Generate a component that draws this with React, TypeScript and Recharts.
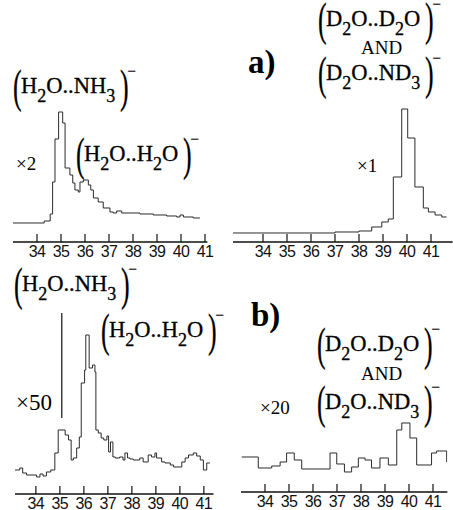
import React from 'react';
import { LineChart, Line, XAxis, YAxis, ReferenceLine } from 'recharts';

// mass axis ticks shared by all four panels
const TICKS = [34, 35, 36, 37, 38, 39, 40, 41];

// a) H2O + NH3, x2
const aLeftMass = [33.0, 34.3, 34.55, 34.65, 34.75, 34.9, 35.07, 35.17, 35.37, 35.49, 35.58, 35.72, 35.79, 35.93, 36.14, 36.24, 36.35, 36.55, 36.76, 37.04, 37.18, 37.32, 37.53, 38.29, 38.85, 39.4, 39.82, 39.96, 40.1, 40.51, 40.79];
const aLeftInt = [19, 21, 28, 60, 103, 130, 119, 74, 67, 59, 52, 50, 60, 62, 57, 52, 44, 40, 34, 30, 29, 31, 29, 28, 27, 26, 25, 27, 25, 24, 24];

// a) D2O + ND3, x1
const aRightMass = [32.75, 37.0, 38.0, 38.53, 38.95, 39.22, 39.43, 39.78, 40.03, 40.33, 40.68, 40.89, 41.17, 41.45, 41.65];
const aRightInt = [9, 10, 11, 15, 20, 23, 65, 133, 104, 55, 34, 30, 27, 25, 25];

// b) H2O + NH3, x50
const bLeftMass = [33.13, 33.33, 33.45, 33.61, 34.03, 34.17, 34.3, 34.44, 34.62, 34.79, 34.93, 35.22, 35.36, 35.47, 35.56, 35.7, 35.81, 35.89, 36.03, 36.08, 36.22, 36.36, 36.46, 36.5, 36.6, 36.72, 36.83, 36.96, 37.03, 37.11, 37.21, 37.31, 37.49, 37.63, 37.71, 37.82, 37.92, 38.06, 38.33, 38.47, 38.68, 38.82, 38.96, 39.03, 39.24, 39.38, 39.6, 39.74, 40.08, 40.22, 40.36, 40.56, 40.7, 40.85, 40.98, 41.12, 41.25];
const bLeftInt = [24, 26, 21, 19, 17, 20, 18, 22, 24, 41, 64, 59, 54, 34, 36, 46, 57, 111, 124, 159, 126, 129, 122, 64, 61, 56, 54, 58, 42, 52, 37, 36, 37, 34, 41, 36, 35, 34, 36, 32, 39, 37, 41, 36, 32, 31, 29, 27, 32, 36, 39, 41, 38, 34, 24, 31, 31];

// b) D2O + ND3, x20
const bRightMass = [33.03, 33.72, 34.28, 34.63, 34.9, 35.22, 35.53, 36.71, 36.99, 37.31, 37.61, 37.89, 38.17, 38.44, 38.79, 39.14, 39.49, 39.7, 40.04, 40.32, 40.94, 41.15, 41.43, 41.57];
const bRightInt = [35, 24, 26, 30, 39, 32, 23, 39, 28, 20, 25, 34, 32, 24, 34, 27, 62, 69, 54, 27, 39, 41, 41, 30];

const PX_PER_UNIT = 24;
const AXIS_H = 24;

const toRows = (m: number[], v: number[]) => m.map((x, i) => ({ m: x, v: v[i] }));

// ticks point up into the plot, labels sit just under the axis line
const UpTick = (props: any) => {
  const { x, y, payload } = props;
  return (
    <g>
      <line x1={x} x2={x} y1={y} y2={y - 8} stroke="#111" strokeWidth={1.2} />
      <text x={x} y={y + 15} textAnchor="middle" fontSize={16} fill="#111"
        fontFamily='"Liberation Sans", Arial, sans-serif' letterSpacing={-0.6}>
        {payload.value}
      </text>
    </g>
  );
};

interface PanelProps {
  left: number;
  axisY: number;
  plotH: number;
  d0: number;
  d1: number;
  rows: { m: number; v: number }[];
  children?: React.ReactNode;
}

const Panel: React.FC<PanelProps> = ({ left, axisY, plotH, d0, d1, rows, children }) => {
  const width = (d1 - d0) * PX_PER_UNIT;
  return (
    <div style={{ position: 'absolute', left, top: axisY - plotH }}>
      <LineChart width={width} height={plotH + AXIS_H} data={rows}
        margin={{ top: 0, right: 0, bottom: 0, left: 0 }}>
        <XAxis type="number" dataKey="m" domain={[d0, d1]} ticks={TICKS} interval={0}
          allowDataOverflow tickSize={0} tickMargin={0} tickLine={false}
          axisLine={{ stroke: '#111', strokeWidth: 1.5 }} tick={<UpTick />} height={AXIS_H} />
        <YAxis hide domain={[0, plotH]} allowDataOverflow />
        <Line type="stepAfter" dataKey="v" stroke="#2a2a2a" strokeWidth={1}
          dot={false} isAnimationActive={false} />
        {children}
      </LineChart>
    </div>
  );
};

const Sub = ({ children }: { children: React.ReactNode }) => (
  <span style={{ fontSize: 18, position: 'relative', top: 9 }}>{children}</span>
);

const paren: React.CSSProperties = {
  fontSize: 47, lineHeight: '38px', display: 'inline-block', width: 9,
  textAlign: 'center', transform: 'scaleX(0.55)',
};

const Formula = ({ left, top, children }: { left: number; top: number; children: React.ReactNode }) => (
  <div style={{
    position: 'absolute', left, top, height: 38, display: 'flex', alignItems: 'center',
    fontFamily: '"Liberation Serif", serif', color: '#000', whiteSpace: 'nowrap',
    WebkitTextStroke: '0.3px #000',
  }}>
    <span style={paren}>(</span>
    <span style={{ fontSize: 22.5, lineHeight: 1, padding: '0 3px 0 1px' }}>{children}</span>
    <span style={paren}>)</span>
    <span style={{ alignSelf: 'flex-start', fontSize: 15, lineHeight: 1, marginTop: -3 }}>−</span>
  </div>
);

const Txt = ({ left, top, size, bold, children }: { left: number; top: number; size: number; bold?: boolean; children: React.ReactNode }) => (
  <div style={{
    position: 'absolute', left, top, fontSize: size, lineHeight: 1, whiteSpace: 'nowrap',
    fontFamily: '"Liberation Serif", serif', fontWeight: bold ? 700 : 400, color: '#000',
  }}>{children}</div>
);

const H2ONH3 = <>H<Sub>2</Sub>O..NH<Sub>3</Sub></>;
const H2OH2O = <>H<Sub>2</Sub>O..H<Sub>2</Sub>O</>;
const D2OD2O = <>D<Sub>2</Sub>O..D<Sub>2</Sub>O</>;
const D2OND3 = <>D<Sub>2</Sub>O..ND<Sub>3</Sub></>;

export default function App() {
  return (
    <div style={{ position: 'absolute', left: 0, top: 0, width: 453, height: 510, background: '#fff', overflow: 'hidden' }}>
      <style>{'.recharts-surface{overflow:visible}'}</style>
      <Panel left={13} axisY={242} plotH={142} d0={33.0} d1={41.1} rows={toRows(aLeftMass, aLeftInt)} />
      <Panel left={233} axisY={242} plotH={142} d0={32.75} d1={41.9} rows={toRows(aRightMass, aRightInt)} />
      <Panel left={15} axisY={494} plotH={190} d0={33.13} d1={41.4} rows={toRows(bLeftMass, bLeftInt)}>
        <ReferenceLine segment={[{ x: 35.08, y: 76 }, { x: 35.08, y: 181 }]} stroke="#111"
          strokeWidth={1.2} ifOverflow="visible" />
      </Panel>
      <Panel left={241} axisY={492} plotH={190} d0={33.0} d1={41.6} rows={toRows(bRightMass, bRightInt)} />

      <Formula left={11} top={67}>{H2ONH3}</Formula>
      <Formula left={74} top={135}>{H2OH2O}</Formula>
      <Txt left={16} top={154} size={19}>×2</Txt>
      <Txt left={248} top={46} size={33} bold>a)</Txt>
      <Formula left={316} top={0}>{D2OD2O}</Formula>
      <Txt left={361} top={38} size={19}>AND</Txt>
      <Formula left={316} top={54}>{D2OND3}</Formula>
      <Txt left={357} top={156} size={19}>×1</Txt>

      <Formula left={12} top={265}>{H2ONH3}</Formula>
      <Formula left={99} top={311}>{H2OH2O}</Formula>
      <Txt left={16} top={391} size={23}>×50</Txt>
      <Txt left={251} top={299} size={33} bold>b)</Txt>
      <Formula left={315} top={325}>{D2OD2O}</Formula>
      <Txt left={361} top={364} size={19}>AND</Txt>
      <Formula left={315} top={383}>{D2OND3}</Formula>
      <Txt left={260} top={398} size={19}>×20</Txt>
    </div>
  );
}
